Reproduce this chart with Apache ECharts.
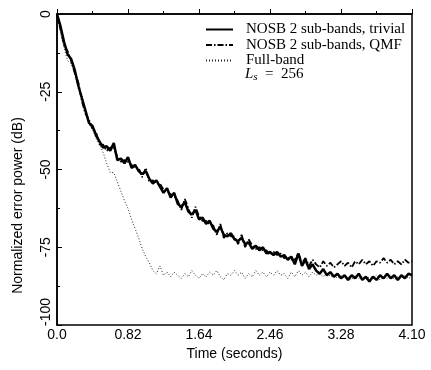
<!DOCTYPE html>
<html>
<head>
<meta charset="utf-8">
<script src="https://cdn.jsdelivr.net/npm/echarts@6/dist/echarts.min.js"></script>
<style>
  html, body { margin: 0; padding: 0; background: #fff; }
  #chart { width: 431px; height: 370px; }
</style>
</head>
<body>
<div id="chart"></div>
<script>
// time axis: 0 .. 4.1 s in steps of 0.041 s
const time = [];
for (let i = 0; i <= 100; i++) time.push(+(i * 0.041).toFixed(3));

const xTickLabels = ['0.0', '0.82', '1.64', '2.46', '3.28', '4.10'];

// NOSB 2 sub-bands, trivial (solid)
const trivial = [
  0, -4, -9, -13, -14.5, -18, -23, -27, -31, -35,
  -36, -39, -41, -43, -42.5, -44, -41.5, -47, -46.5, -48,
  -46, -49.5, -48.5, -50.5, -51.5, -50.5, -53, -54.5, -53.5, -55.5,
  -57.5, -56, -59, -57.5, -61, -62, -60.5, -63.5, -64.5, -63,
  -66, -65.5, -67.5, -66.5, -69, -70, -68.5, -71, -71.5, -70.5,
  -72.5, -73, -72, -74, -73.5, -75.5, -74.5, -76, -75, -77,
  -76.5, -77.5, -76.5, -78, -77.5, -79, -78, -80.5, -77, -81,
  -79, -82, -80.5, -82.5, -83.5, -82, -84, -83, -84.5, -83.5,
  -85, -84, -85.5, -84, -85, -83.5, -85.5, -84.5, -86, -84.5,
  -85.5, -84, -85, -83.5, -85, -84, -85.5, -84, -85, -83.5,
  -84
];

// NOSB 2 sub-bands, QMF (dash-dot)
const qmf = [
  0, -5, -10, -12, -15, -19, -22, -28, -32, -34,
  -37, -38, -42, -42, -44, -43, -43, -46, -47.5, -47,
  -47.5, -48.5, -49.5, -49.5, -52.5, -49.5, -54, -53.5, -54.5, -54.5,
  -56.5, -57, -58, -58.5, -60, -63, -59.5, -62.5, -65.5, -62,
  -65, -66.5, -66.5, -67.5, -68, -71, -67.5, -72, -70.5, -71.5,
  -71.5, -74, -71, -75, -72.5, -74.5, -75.5, -75, -76, -76,
  -77.5, -76.5, -77.5, -77, -78.5, -78, -79, -79, -77, -80,
  -78.5, -81, -79, -80.5, -81.5, -79.5, -81, -80, -81.5, -80.5,
  -79.5, -81, -80, -81.5, -79.5, -80.5, -79, -80.5, -79.5, -81,
  -79.5, -80, -78.5, -80, -79, -80.5, -79.5, -80.5, -79, -80,
  -79.5
];

// Full-band (dotted)
const fullBand = [
  0, -6, -11, -15, -16, -19, -24, -26, -31, -35.5,
  -37, -40, -42, -44.5, -48, -51, -51, -54, -57, -60,
  -62.5, -66, -69, -72, -75.5, -78, -80, -82.5, -83.5, -81,
  -84, -83, -84.5, -83, -84, -85, -83.5, -84.5, -82.5, -84,
  -85, -83.5, -84.5, -83, -84, -82.5, -84.5, -85.5, -83.5, -84,
  -82.5, -84, -83, -85, -83.5, -84.5, -82.5, -84, -83, -84.5,
  -83, -84, -82.5, -84, -83.5, -85, -83, -84.5, -82.5, -84,
  -83, -84.5, -83, -84, -83.5, -84.5, -83, -84.5, -84, -85,
  -84, -85, -84.5, -85.5, -84, -85, -84.5, -85.5, -84.5, -85,
  -84, -85.5, -84.5, -85, -84, -85.5, -84.5, -85, -84, -85,
  -84.5
];

const seriesNames = ['NOSB 2 sub-bands, trivial', 'NOSB 2 sub-bands, QMF', 'Full-band'];

const pair = (ys) => time.map((t, i) => [t, ys[i]]);

const chart = echarts.init(document.getElementById('chart'));
const sans = 'Liberation Sans';
const serif = 'Liberation Serif';

chart.setOption({
  backgroundColor: '#fff',
  animation: false,
  grid: { left: 57, right: 19, top: 14, bottom: 45, show: true, borderColor: '#000', borderWidth: 1.5 },
  legend: {
    left: 205, top: 22, orient: 'vertical', padding: 0,
    itemWidth: 27, itemHeight: 10, itemGap: 0.5,
    itemStyle: { opacity: 0 },
    data: seriesNames,
    textStyle: { fontFamily: serif, fontSize: 15, lineHeight: 12.5, color: '#000', padding: [0, 0, 0, 8] }
  },
  graphic: [{
    type: 'text', left: 245, top: 67,
    style: {
      rich: {
        L: { fontFamily: serif, fontStyle: 'italic', fontSize: 15, fill: '#000' },
        s: { fontFamily: serif, fontStyle: 'italic', fontSize: 11, fill: '#000', verticalAlign: 'bottom', padding: [6, 0, 0, 0] },
        n: { fontFamily: serif, fontSize: 15, fill: '#000' }
      },
      text: '{L|L}{s|s}{n|  =  256}'
    }
  }],
  xAxis: {
    type: 'value', min: 0, max: 4.1, interval: 0.82,
    name: 'Time (seconds)', nameLocation: 'middle', nameGap: 19,
    nameTextStyle: { fontFamily: sans, fontSize: 14, color: '#000' },
    axisLine: { lineStyle: { color: '#000', width: 1.5 } },
    axisTick: { inside: true, length: 5, lineStyle: { color: '#000' } },
    minorTick: { show: true, splitNumber: 2, length: 3, lineStyle: { color: '#000' } },
    splitLine: { show: false },
    axisLabel: {
      margin: 3, fontFamily: sans, fontSize: 14, color: '#000',
      formatter: (v) => xTickLabels[Math.round(v / 0.82)]
    }
  },
  yAxis: {
    type: 'value', min: -100, max: 0, interval: 25,
    name: 'Normalized error power (dB)', nameLocation: 'middle', nameGap: 32,
    nameTextStyle: { fontFamily: sans, fontSize: 14, color: '#000', padding: [0, 72, 0, 0] },
    axisLine: { lineStyle: { color: '#000', width: 1.5 } },
    axisTick: { inside: true, length: 5, lineStyle: { color: '#000' } },
    minorTick: { show: true, splitNumber: 2, length: 3, lineStyle: { color: '#000' } },
    splitLine: { show: false },
    axisLabel: {
      rotate: 90, margin: 4, fontFamily: sans, fontSize: 14, color: '#000',
      formatter: (v) => (v === -100 ? '{b|-100}' : String(v)),
      rich: { b: { fontFamily: sans, fontSize: 14, color: '#000', padding: [0, 0, 0, 26] } }
    }
  },
  series: [
    {
      name: seriesNames[0], type: 'line', data: pair(trivial), symbol: 'none', z: 4,
      lineStyle: { color: '#000', width: 2.5 }, itemStyle: { color: '#000' }
    },
    {
      name: seriesNames[1], type: 'line', data: pair(qmf), symbol: 'none', z: 3,
      lineStyle: { color: '#000', width: 1.8, type: [6, 2, 1.5, 2] }, itemStyle: { color: '#000' }
    },
    {
      name: seriesNames[2], type: 'line', data: pair(fullBand), symbol: 'none', z: 2,
      lineStyle: { color: '#222', width: 1, type: [1, 2] }, itemStyle: { color: '#222' }
    }
  ]
});
</script>
</body>
</html>
